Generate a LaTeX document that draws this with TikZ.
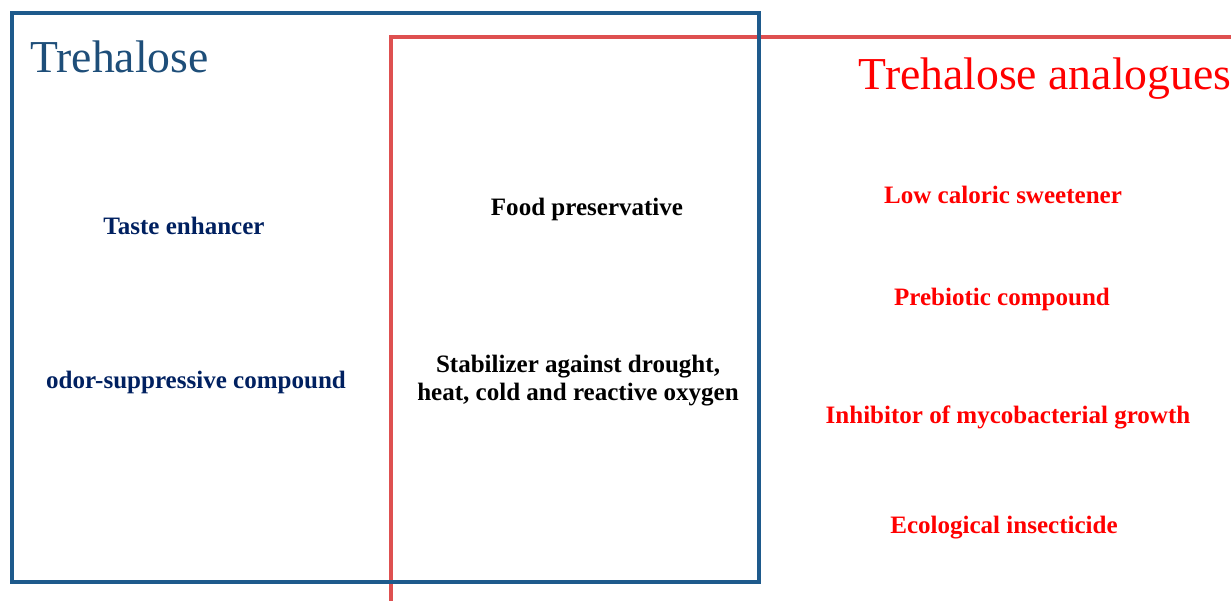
\documentclass[tikz,border=0pt]{standalone}
\usepackage{fontspec}
\setmainfont{Liberation Serif}
\definecolor{boxblue}{RGB}{30,90,140}
\definecolor{boxred}{RGB}{222,80,80}
\definecolor{titleblue}{RGB}{30,78,121}
\definecolor{navy}{RGB}{0,32,96}
\begin{document}
\begin{tikzpicture}[x=0.02cm,y=-0.02cm,
    item/.style={font=\bfseries\fontsize{14.25}{16}\selectfont, align=center},
    heading/.style={font=\fontsize{26}{30}\selectfont}]
    \useasboundingbox (0,0) rectangle (1231,600);
    \clip (0,0) rectangle (1231,600);

    \coordinate (R) at (391, 37) ;
    \coordinate (B1) at (12, 13) ;
    \coordinate (B2) at (759, 582) ;

  \draw[line width=2.3pt, boxred] (R) rectangle +(900,600);
  \draw[line width=2.3pt, boxblue] (B1) rectangle (B2);

    \node[heading, titleblue, anchor=west, inner sep=0pt] (treh) at (30, 57) {Trehalose};
    \node[heading, red] (analog) at (1045, 79) {Trehalose analogues};

    \node[item, navy] (taste) at (184, 226) {Taste enhancer};
    \node[item, navy] (odor) at (196, 382) {odor-suppressive compound};

    \node[item] (food) at (587, 209) {Food preservative};
    \node[item] (stab) at (578, 381) {Stabilizer against drought,\\heat, cold and reactive oxygen};

    \node[item, red] (sweet) at (1003, 195) {Low caloric sweetener};
    \node[item, red] (prebio) at (1002, 299) {Prebiotic compound};
    \node[item, red] (inhib) at (1008, 417) {Inhibitor of mycobacterial growth};
    \node[item, red] (insect) at (1004, 528) {Ecological insecticide};

\end{tikzpicture}
\end{document}
